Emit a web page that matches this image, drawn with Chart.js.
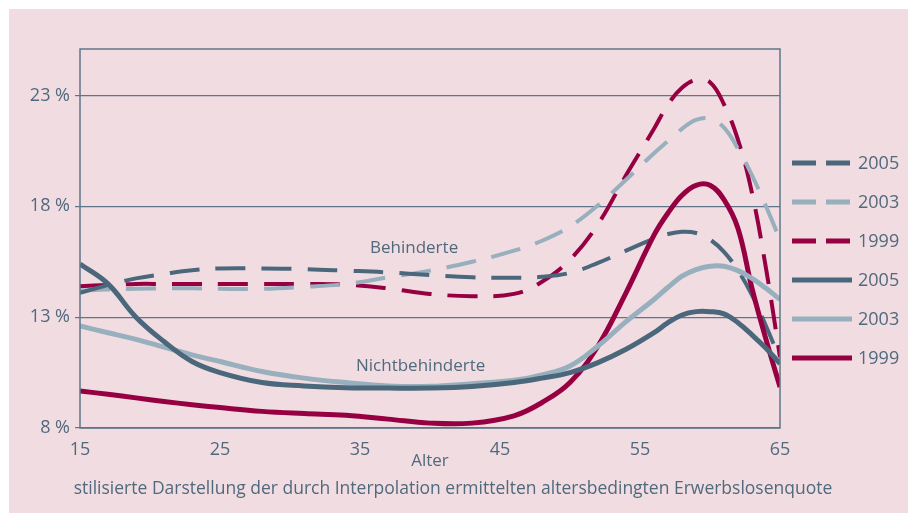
<!DOCTYPE html>
<html>
<head>
<meta charset="utf-8">
<title>Erwerbslosenquote nach Alter</title>
<script src="https://cdn.jsdelivr.net/npm/chart.js@4"></script>
<style>
  html, body { margin: 0; padding: 0; background: #fff; }
  #bg { position: absolute; left: 9px; top: 9px; width: 899px; height: 504px; background: #f1dde1; }
  #chart { position: absolute; left: 0; top: 0; }
</style>
</head>
<body>
<div id="bg"></div>
<canvas id="chart" width="908" height="516"></canvas>
<script>
// Alter (x) und stilisierte Erwerbslosenquote in % (y)
const ages = [15, 17, 19, 21, 23, 25, 28, 31, 34, 37, 40, 43, 46, 48, 50, 52, 54, 56, 57, 58, 59, 60, 61, 62, 63, 64, 65];

// Behinderte (gestrichelt)
const behind2005 = [14.1, 14.45, 14.75, 14.95, 15.12, 15.2, 15.2, 15.17, 15.1, 15.02, 14.9, 14.8, 14.78, 14.82, 15.0, 15.45, 16.0, 16.55, 16.75, 16.85, 16.8, 16.5, 15.95, 15.1, 14.0, 12.6, 11.1];
const behind2003 = [14.2, 14.25, 14.28, 14.3, 14.3, 14.28, 14.28, 14.37, 14.5, 14.8, 15.1, 15.5, 16.0, 16.45, 17.1, 18.05, 19.2, 20.4, 20.95, 21.5, 21.9, 21.95, 21.55, 20.6, 19.4, 18.0, 16.5];
const behind1999 = [14.4, 14.45, 14.5, 14.5, 14.5, 14.5, 14.5, 14.5, 14.47, 14.3, 14.05, 13.95, 14.05, 14.6, 15.6, 17.2, 19.4, 21.5, 22.6, 23.35, 23.7, 23.6, 22.6, 21.0, 18.6, 15.2, 11.2];

// Nichtbehinderte (durchgezogen)
const nicht2005 = [15.4, 14.5, 13.0, 11.9, 11.0, 10.5, 10.05, 9.9, 9.82, 9.8, 9.8, 9.87, 10.05, 10.25, 10.5, 10.95, 11.55, 12.3, 12.75, 13.1, 13.25, 13.25, 13.15, 12.75, 12.2, 11.6, 10.9];
const nicht2003 = [12.6, 12.3, 12.0, 11.65, 11.3, 11.0, 10.55, 10.25, 10.05, 9.9, 9.88, 10.0, 10.15, 10.4, 10.8, 11.7, 12.8, 13.8, 14.35, 14.85, 15.15, 15.3, 15.3, 15.1, 14.75, 14.3, 13.8];
const nicht1999 = [9.67, 9.52, 9.36, 9.2, 9.05, 8.92, 8.75, 8.65, 8.57, 8.4, 8.22, 8.22, 8.55, 9.15, 10.05, 11.7, 14.1, 16.7, 17.7, 18.5, 18.95, 18.95, 18.3, 17.0, 14.3, 12.0, 9.85];

const xTicks = [15, 25, 35, 45, 55, 65];
const yTicks = [8, 13, 18, 23];

const DARK = '#4a677b';
const LIGHT = '#98afbd';
const RED = '#960042';
const TEXT = '#4f697d';
const LINE = '#5d7689';

Chart.defaults.font.family = "'Open Sans', sans-serif";
Chart.defaults.color = TEXT;

function series(label, values, color, dashed) {
  return {
    label: label,
    data: ages.map((a, i) => ({ x: a, y: values[i] })),
    borderColor: color,
    borderWidth: dashed ? 4 : 5,
    borderDash: dashed ? [30, 16] : [],
    borderCapStyle: 'butt',
    pointRadius: 0,
    tension: 0.4,
    fill: false,
    order: dashed ? 2 : 1
  };
}

// Rahmen, Beschriftungen und Legende
const decorations = {
  id: 'decorations',
  afterDraw(chart) {
    const ctx = chart.ctx;
    const a = chart.chartArea;
    ctx.save();
    ctx.strokeStyle = LINE;
    ctx.lineWidth = 1.5;
    ctx.strokeRect(a.left, a.top, a.right - a.left, a.bottom - a.top);

    ctx.fillStyle = TEXT;
    ctx.textBaseline = 'middle';
    ctx.textAlign = 'left';
    ctx.font = "17px 'Open Sans', sans-serif";
    ctx.fillText('Behinderte', 370, 248);
    ctx.fillText('Nichtbehinderte', 356, 366);

    ctx.textAlign = 'center';
    ctx.fillText('Alter', 430, 461);
    ctx.font = "17.5px 'Open Sans', sans-serif";
    ctx.fillText('stilisierte Darstellung der durch Interpolation ermittelten altersbedingten Erwerbslosenquote', 453, 489);

    // Legende
    ctx.textAlign = 'left';
    ctx.font = "18px 'Open Sans', sans-serif";
    chart.data.datasets.forEach((ds, i) => {
      const y = 163 + i * 39;
      ctx.beginPath();
      ctx.strokeStyle = ds.borderColor;
      ctx.lineWidth = 5;
      ctx.lineCap = 'butt';
      ctx.setLineDash(ds.borderDash.length ? [24, 10] : []);
      ctx.moveTo(792, y);
      ctx.lineTo(852, y);
      ctx.stroke();
      ctx.setLineDash([]);
      ctx.fillStyle = TEXT;
      ctx.fillText(ds.label, 858, y + 1);
    });
    ctx.restore();
  }
};

new Chart(document.getElementById('chart'), {
  type: 'line',
  data: {
    datasets: [
      series('2005', behind2005, DARK, true),
      series('2003', behind2003, LIGHT, true),
      series('1999', behind1999, RED, true),
      series('2005', nicht2005, DARK, false),
      series('2003', nicht2003, LIGHT, false),
      series('1999', nicht1999, RED, false)
    ]
  },
  options: {
    responsive: false,
    animation: false,
    layout: { padding: { left: 0, top: 49, right: 128, bottom: 0 } },
    plugins: {
      legend: { display: false },
      tooltip: { enabled: false }
    },
    scales: {
      x: {
        type: 'linear',
        min: 15,
        max: 65,
        afterBuildTicks: s => { s.ticks = xTicks.map(v => ({ value: v })); },
        afterFit: s => { s.height = 88; },
        grid: { display: false },
        border: { display: false },
        ticks: { padding: 3, font: { size: 18 }, color: TEXT }
      },
      y: {
        min: 8,
        max: 25.1,
        afterBuildTicks: s => { s.ticks = yTicks.map(v => ({ value: v })); },
        afterFit: s => { s.width = 80; },
        grid: { color: LINE, lineWidth: 1.2, tickLength: 5, tickColor: LINE },
        border: { display: false },
        ticks: { padding: 5, font: { size: 18 }, color: TEXT, callback: v => v + ' %' }
      }
    }
  },
  plugins: [decorations]
});
</script>
</body>
</html>
